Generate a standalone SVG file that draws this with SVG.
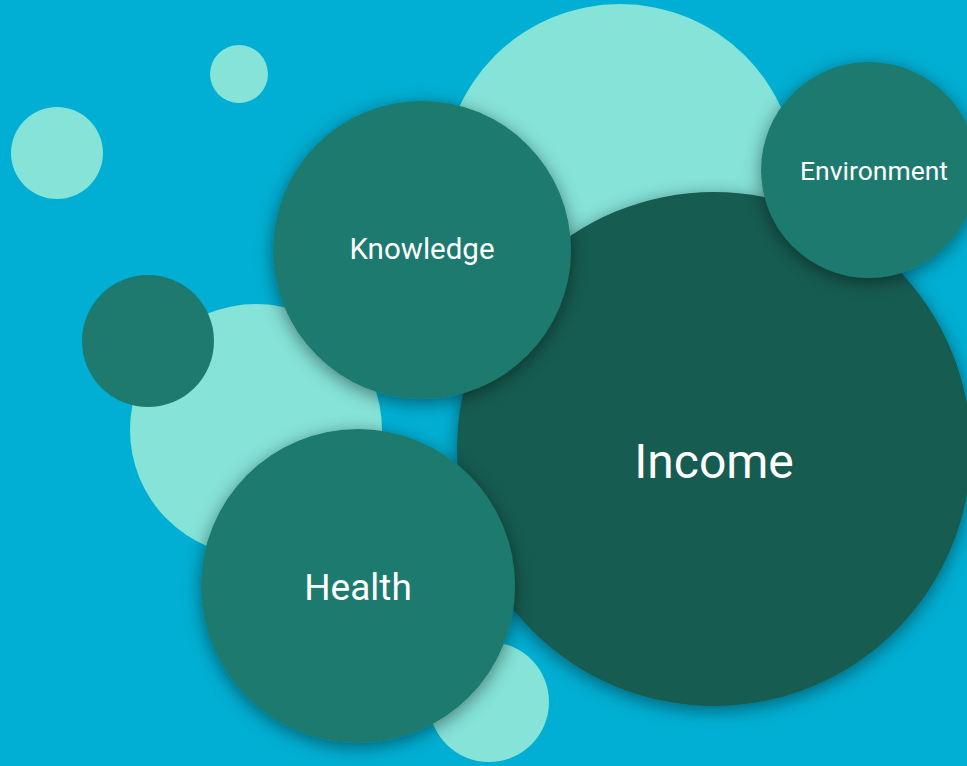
<svg xmlns="http://www.w3.org/2000/svg" width="967" height="766" viewBox="0 0 967 766">
<defs>
<style>
.light{fill:#85E3D8}
.node{fill:#1E7A6E}
.main{fill:#175B51}
.lbl{fill:#FFFFFF;font-family:Roboto,"Liberation Sans",sans-serif;text-anchor:middle}
</style>
<filter id="sh" x="-30%" y="-30%" width="160%" height="160%">
<feDropShadow dx="0" dy="4" stdDeviation="9" flood-color="#000" flood-opacity="0.45"/>
</filter>
</defs>
<rect width="967" height="766" fill="#00AFD3"/>
<g id="decor">
<circle class="light" cx="239" cy="74" r="29"/>
<circle class="light" cx="57" cy="153" r="46"/>
<circle class="light" cx="620" cy="181" r="177"/>
<circle class="light" cx="256" cy="430" r="126"/>
<circle class="node" cx="148" cy="341" r="66"/>
<circle class="light" cx="489" cy="702" r="60"/>
</g>
<g id="income">
<circle class="main" cx="714" cy="449" r="257" filter="url(#sh)"/>
<text class="lbl" x="714" y="478" font-size="48">Income</text>
</g>
<g id="knowledge">
<circle class="node" cx="422" cy="250" r="149" filter="url(#sh)"/>
<text class="lbl" x="422" y="259" font-size="29.5">Knowledge</text>
</g>
<g id="environment">
<circle class="node" cx="869" cy="170" r="108" filter="url(#sh)"/>
<text class="lbl" x="874" y="180" font-size="26.5">Environment</text>
</g>
<g id="health">
<circle class="node" cx="358" cy="586" r="157" filter="url(#sh)"/>
<text class="lbl" x="358" y="600" font-size="37">Health</text>
</g>
<g id="connectors"></g>
</svg>
